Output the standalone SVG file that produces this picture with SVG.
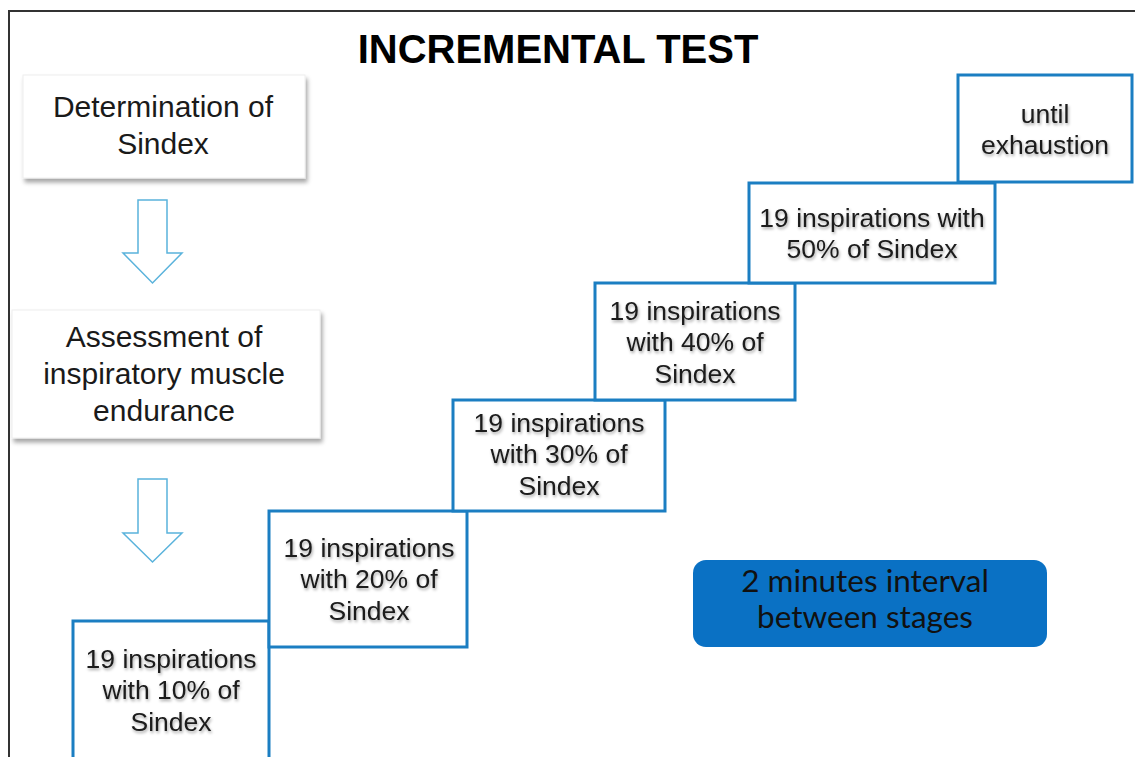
<svg xmlns="http://www.w3.org/2000/svg" width="1135" height="757" viewBox="0 0 1135 757">
<defs>
<filter id="boxShadow" x="-10%" y="-10%" width="125%" height="130%">
<feDropShadow dx="2" dy="4" stdDeviation="2" flood-color="#000" flood-opacity="0.35"/>
</filter>
<filter id="txtShadow" x="-10%" y="-20%" width="120%" height="150%">
<feDropShadow dx="1" dy="2" stdDeviation="1.5" flood-color="#000" flood-opacity="0.35"/>
</filter>
</defs>
<style>
.frame{fill:none;stroke:#333;stroke-width:2}
.wbox{fill:#fff;stroke:#eee;stroke-width:1;filter:url(#boxShadow)}
.sbox{fill:#fff;stroke:#1b7ec2;stroke-width:3}
.t{font-family:"Liberation Sans",Arial,sans-serif;fill:#1a1a1a;text-anchor:middle}
.wt{font-size:30px}
.st{font-size:26.5px;filter:url(#txtShadow)}
.arrow{fill:#fff;stroke:#5ab3dc;stroke-width:1.5}
.title{font-family:"Liberation Sans",Arial,sans-serif;font-weight:bold;font-size:40px;fill:#000;text-anchor:middle}
.bt{font-family:Lato,"Open Sans",sans-serif;font-size:31.5px;fill:#111;text-anchor:middle}
</style>
<rect width="1135" height="757" fill="#fff"/>
<path class="frame" d="M9,757 V11 H1135"/>
<text class="title" x="558" y="63">INCREMENTAL TEST</text>

<g id="connectors">
<path class="arrow" d="M138,200 H167 V253 H182 L152.5,283 L123,253 H138 Z"/>
<path class="arrow" d="M138,479 H167 V533 H182 L152.5,562 L123,533 H138 Z"/>
</g>

<g id="determination">
<rect class="wbox" x="23" y="75" width="282" height="103"/>
<text class="t wt" x="163" y="117">Determination of</text>
<text class="t wt" x="163" y="154">Sindex</text>
</g>

<g id="assessment">
<rect class="wbox" x="12" y="310" width="308" height="128"/>
<text class="t wt" x="164" y="347">Assessment of</text>
<text class="t wt" x="164" y="384">inspiratory muscle</text>
<text class="t wt" x="164" y="421">endurance</text>
</g>

<g id="stage10">
<rect class="sbox" x="73" y="621" width="196" height="140"/>
<text class="t st" x="171" y="668">19 inspirations</text>
<text class="t st" x="171" y="699">with 10% of</text>
<text class="t st" x="171" y="731">Sindex</text>
</g>

<g id="stage20">
<rect class="sbox" x="269" y="511" width="198" height="136"/>
<text class="t st" x="369" y="557">19 inspirations</text>
<text class="t st" x="369" y="588">with 20% of</text>
<text class="t st" x="369" y="620">Sindex</text>
</g>

<g id="stage30">
<rect class="sbox" x="453" y="400" width="212" height="111"/>
<text class="t st" x="559" y="432">19 inspirations</text>
<text class="t st" x="559" y="463">with 30% of</text>
<text class="t st" x="559" y="495">Sindex</text>
</g>

<g id="stage40">
<rect class="sbox" x="595" y="283" width="200" height="117"/>
<text class="t st" x="695" y="320">19 inspirations</text>
<text class="t st" x="695" y="351">with 40% of</text>
<text class="t st" x="695" y="383">Sindex</text>
</g>

<g id="stage50">
<rect class="sbox" x="749" y="183" width="246" height="100"/>
<text class="t st" x="872" y="227">19 inspirations with</text>
<text class="t st" x="872" y="258">50% of Sindex</text>
</g>

<g id="exhaustion">
<rect class="sbox" x="958" y="75" width="174" height="107"/>
<text class="t st" x="1045" y="123">until</text>
<text class="t st" x="1045" y="154">exhaustion</text>
</g>

<g id="interval">
<rect x="693" y="560" width="354" height="87" rx="13" fill="#0a71c4"/>
<text class="bt" x="865" y="592">2 minutes interval</text>
<text class="bt" x="865" y="628">between stages</text>
</g>
</svg>
